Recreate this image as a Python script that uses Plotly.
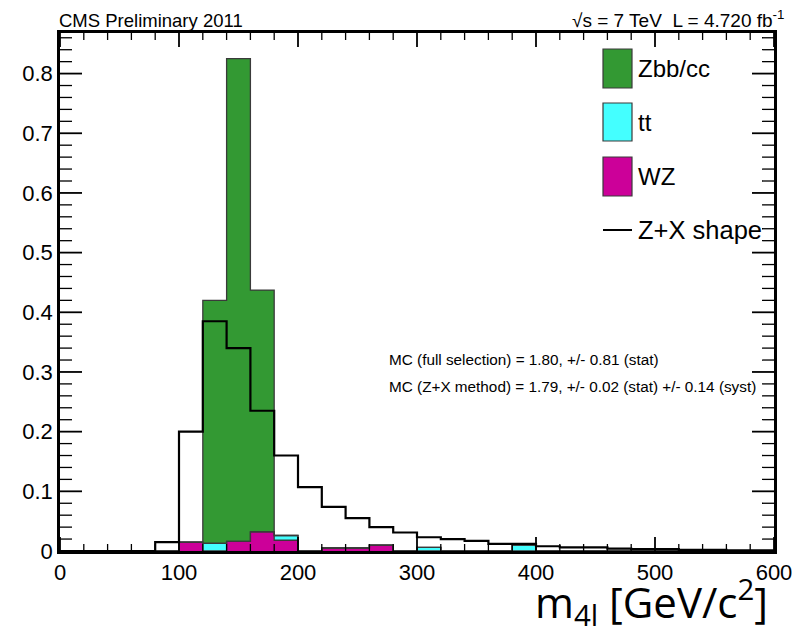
import plotly.graph_objects as go

# bin edges: 0..600 in 20 GeV bins
bin_lo = list(range(0, 600, 20))
bin_centers = [b + 10 for b in bin_lo]

wz = [0, 0, 0, 0, 0, 0.015, 0, 0.016, 0.032, 0.018,
      0, 0.005, 0.005, 0.010, 0, 0, 0, 0, 0, 0,
      0, 0, 0, 0, 0, 0, 0, 0, 0, 0]
tt = [0, 0, 0, 0, 0, 0, 0.013, 0, 0, 0.008,
      0, 0, 0, 0, 0, 0.006, 0, 0, 0, 0.010,
      0, 0, 0, 0, 0, 0, 0, 0, 0, 0]
zbb = [0, 0, 0, 0, 0, 0, 0.407, 0.809, 0.405, 0,
       0, 0, 0, 0, 0, 0, 0, 0, 0, 0,
       0, 0, 0, 0, 0, 0, 0, 0, 0, 0]
zx_shape = [0, 0, 0, 0, 0.015, 0.200, 0.385, 0.340, 0.235, 0.160,
            0.107, 0.074, 0.055, 0.040, 0.031, 0.023, 0.020, 0.017, 0.012, 0.012,
            0.008, 0.006, 0.006, 0.004, 0.003, 0.003, 0.002, 0.002, 0.001, 0.001]

X_RANGE = [0, 600]
Y_RANGE = [0, 0.868]
x_major = [0, 100, 200, 300, 400, 500, 600]
x_minor = [v for v in range(0, 601, 20) if v % 100 != 0]
y_major = [0, 0.1, 0.2, 0.3, 0.4, 0.5, 0.6, 0.7, 0.8]
y_minor = [round(0.02 * i, 2) for i in range(1, 44) if i % 5 != 0]

GREEN = "#339933"
CYAN = "#44FFFF"
MAGENTA = "#CC0099"
OUTLINE = "#3a3a3a"

PLOT_W, PLOT_H = 714, 518  # plot area in pixels
edges = bin_lo + [600]

fig = go.Figure()
for name, vals, col in [("WZ", wz, MAGENTA), ("tt", tt, CYAN), ("Zbb/cc", zbb, GREEN)]:
    fig.add_trace(go.Bar(x=bin_centers, y=vals, width=20, name=name,
                         marker=dict(color=col, line=dict(width=0)),
                         showlegend=False))

# stack outlines (as ROOT draws them)
cum1 = wz
cum2 = [a + b for a, b in zip(wz, tt)]
cum3 = [a + b + c for a, b, c in zip(wz, tt, zbb)]
for cum in (cum1, cum2, cum3):
    fig.add_trace(go.Scatter(x=edges, y=cum + [0], mode="lines",
                             line=dict(color=OUTLINE, width=1.3, shape="hv"),
                             showlegend=False, hoverinfo="skip"))

fig.add_trace(go.Scatter(x=edges, y=zx_shape + [zx_shape[-1]], mode="lines",
                         line=dict(color="black", width=2.2, shape="hv"),
                         name="Z+X shape", showlegend=False))

# ROOT-style inside tick marks on all four sides, built from the tick lists
def px_to_dx(p):
    return p / PLOT_W * (X_RANGE[1] - X_RANGE[0])
def px_to_dy(p):
    return p / PLOT_H * (Y_RANGE[1] - Y_RANGE[0])

for ticks_x, ticks_y, lx, ly, w in ((x_major, y_major, 14, 22, 1.8), (x_minor, y_minor, 7, 12, 1.3)):
    tx, ty = [], []
    dy = px_to_dy(lx)
    dx = px_to_dx(ly)
    for v in ticks_x:
        tx += [v, v, None, v, v, None]
        ty += [Y_RANGE[0], Y_RANGE[0] + dy, None, Y_RANGE[1], Y_RANGE[1] - dy, None]
    for v in ticks_y:
        tx += [X_RANGE[0], X_RANGE[0] + dx, None, X_RANGE[1], X_RANGE[1] - dx, None]
        ty += [v, v, None, v, v, None]
    fig.add_trace(go.Scatter(x=tx, y=ty, mode="lines", line=dict(color="black", width=w),
                             showlegend=False, hoverinfo="skip", connectgaps=False))

fig.update_layout(
    barmode="stack", bargap=0,
    width=794, height=626,
    margin=dict(l=60, r=20, t=33, b=75, autoexpand=False),
    plot_bgcolor="white", paper_bgcolor="white",
    font=dict(family="Liberation Sans, Arial, sans-serif", color="black"),
    xaxis=dict(range=X_RANGE, tickvals=x_major, ticks="", showline=True, linecolor="black",
               linewidth=2.5, mirror=True, showgrid=False, zeroline=False,
               tickfont=dict(size=22), automargin=False),
    yaxis=dict(range=Y_RANGE, tickvals=y_major, ticktext=[f"{v:g}" for v in y_major], ticks="",
               showline=True, linecolor="black", linewidth=2.5, mirror=True,
               showgrid=False, zeroline=False, tickfont=dict(size=22), automargin=False),
)

# headers
fig.add_annotation(text="CMS Preliminary 2011", xref="paper", yref="paper", x=0, y=1,
                   xanchor="left", yanchor="bottom", showarrow=False, font=dict(size=18.5),
                   xshift=-3, yshift=0)
fig.add_annotation(text="√s = 7 TeV  L = 4.720 fb<sup>-1</sup>", xref="paper", yref="paper", x=1, y=1,
                   xanchor="right", yanchor="bottom", showarrow=False, font=dict(size=19), xshift=12)

# legend (manual)
def px_x(p):
    return (p - 60) / PLOT_W
def px_y(p):
    return (551 - p) / PLOT_H

legend_items = [("Zbb/cc", GREEN, 49, 88), ("tt", CYAN, 103, 141), ("WZ", MAGENTA, 157, 196)]
for label, col, y0, y1 in legend_items:
    fig.add_shape(type="rect", xref="paper", yref="paper", x0=px_x(603), x1=px_x(632),
                  y0=px_y(y1), y1=px_y(y0), fillcolor=col, line=dict(color=OUTLINE, width=1.2))
    fig.add_annotation(text=label, xref="paper", yref="paper", x=px_x(636), y=px_y((y0 + y1) / 2),
                       xanchor="left", yanchor="middle", showarrow=False, font=dict(size=24))
fig.add_shape(type="line", xref="paper", yref="paper", x0=px_x(603), x1=px_x(632),
              y0=px_y(230), y1=px_y(230), line=dict(color="black", width=2))
fig.add_annotation(text="Z+X shape", xref="paper", yref="paper", x=px_x(636), y=px_y(230),
                   xanchor="left", yanchor="middle", showarrow=False, font=dict(size=25.5))

fig.add_annotation(text="MC (full selection) = 1.80, +/- 0.81 (stat)", xref="paper", yref="paper",
                   x=px_x(387), y=px_y(359), xanchor="left", yanchor="middle", showarrow=False,
                   font=dict(size=15.3))
fig.add_annotation(text="MC (Z+X method) = 1.79, +/- 0.02 (stat) +/- 0.14 (syst)", xref="paper", yref="paper",
                   x=px_x(387), y=px_y(386), xanchor="left", yanchor="middle", showarrow=False,
                   font=dict(size=15.3))

# axis title
fig.add_annotation(text="m<sub>4l</sub> [GeV/c<sup>2</sup>]", xref="paper", yref="paper",
                   x=px_x(770), y=px_y(602), xanchor="right", yanchor="middle", showarrow=False,
                   font=dict(size=42, family="Open Sans, Liberation Sans, sans-serif"))

fig.write_html("out.html")
